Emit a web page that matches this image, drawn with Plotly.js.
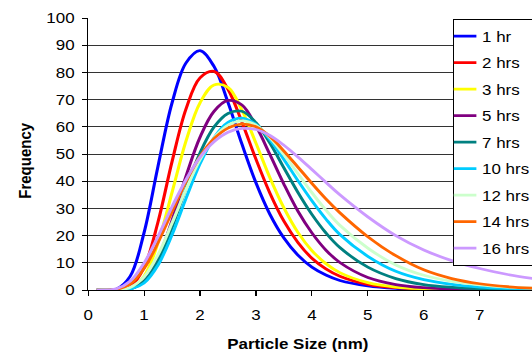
<!DOCTYPE html>
<html><head><meta charset="utf-8">
<script src="https://cdn.plot.ly/plotly-3.0.1.min.js"></script>
<style>
html,body{margin:0;padding:0;overflow:hidden;background:#fff;width:532px;height:353px;}
#chart{width:500px;height:353px;transform:scaleX(1.13);transform-origin:0 0;}
</style></head><body><div id="chart"></div>
<script>
const particleSize = [0.15, 0.5, 0.75, 1, 1.25, 1.5, 1.75, 2, 2.25, 2.5, 2.75, 3, 3.25, 3.5, 3.75, 4, 4.25, 4.5, 5, 5.5, 6, 6.5, 7, 7.5, 8];
const seriesNames = ['1 hr', '2 hrs', '3 hrs', '5 hrs', '7 hrs', '10 hrs', '12 hrs', '14 hrs', '16 hrs'];
const freq1hr  = [0, 0.3, 5.0, 21.1, 45.6, 68.8, 83.5, 88.0, 82.2, 69.0, 53.6, 39.4, 27.8, 19.1, 12.8, 8.4, 5.5, 3.5, 1.5, 0.6, 0.24, 0.1, 0.04, 0, 0];
const freq2hrs = [0, 0.03, 1.2, 8.3, 25.1, 47.2, 66.6, 78.0, 80.4, 73.8, 61.7, 48.1, 35.6, 25.3, 17.5, 11.7, 7.8, 5.1, 2.1, 0.85, 0.35, 0.14, 0.06, 0, 0];
const freq3hrs = [0, 0.01, 0.63, 5.1, 17.4, 35.9, 54.8, 68.8, 75.4, 74.5, 66.1, 54.0, 41.3, 30.2, 21.2, 14.5, 9.7, 6.4, 2.7, 1.08, 0.43, 0.17, 0.07, 0, 0];
const freq5hrs = [0, 0.01, 0.37, 3.2, 11.6, 25.6, 41.9, 56.2, 65.7, 69.7, 68.0, 60.3, 49.8, 38.9, 29.0, 21.0, 14.7, 10.1, 4.6, 2.0, 0.84, 0.35, 0.14, 0.06, 0.02];
const freq7hrs = [0, 0.01, 0.41, 3.2, 10.7, 23.0, 37.4, 50.4, 59.9, 64.9, 65.7, 61.5, 54.0, 44.9, 35.9, 27.8, 21.0, 15.6, 8.4, 4.2, 2.0, 0.97, 0.46, 0.22, 0.11];
const freq10hrs = [0, 0.01, 0.33, 2.6, 9.2, 20.3, 33.7, 46.4, 56.0, 61.6, 63.2, 60.9, 55.3, 48.0, 40.2, 32.8, 26.1, 20.4, 12.4, 6.9, 3.8, 2.1, 1.1, 0.6, 0.32];
const freq12hrs = [0, 0.04, 0.92, 4.8, 13.0, 24.6, 37.0, 47.9, 55.9, 60.6, 62.2, 60.6, 56.0, 49.7, 42.8, 35.8, 29.4, 23.8, 15.4, 9.2, 5.4, 3.2, 1.9, 1.08, 0.63];
const freq14hrs = [0, 0.2, 2.2, 7.9, 17.5, 28.8, 39.9, 49.1, 55.6, 59.5, 61.0, 60.0, 56.4, 51.1, 45.2, 39.2, 33.5, 28.4, 19.6, 12.6, 7.4, 4.2, 2.3, 1.2, 0.6];
const freq16hrs = [0, 0.41, 3.2, 9.9, 19.7, 30.6, 40.6, 48.8, 54.5, 58.0, 59.4, 59.0, 56.8, 53.2, 48.9, 44.3, 39.6, 35.0, 26.9, 20.0, 14.7, 10.8, 7.9, 5.7, 4.1];
const xTickVals = [0, 1, 2, 3, 4, 5, 6, 7];

const seriesValues = [freq1hr, freq2hrs, freq3hrs, freq5hrs, freq7hrs, freq10hrs, freq12hrs, freq14hrs, freq16hrs];
const seriesColors = ['#0000FF', '#FF0000', '#FFFF00', '#800080', '#008080', '#00CCFF', '#CCFFCC', '#FF6600', '#CC99FF'];

const traces = seriesNames.map((name, i) => ({
  type: 'scatter', mode: 'lines', name: name, legendgroup: 'g' + i,
  x: particleSize, y: seriesValues[i],
  line: {color: seriesColors[i], width: 2.75, shape: 'spline', smoothing: 1},
  hoverinfo: 'skip'
}));

const fontFam = '"Liberation Sans", Arial, sans-serif';
const layout = {
  width: 500, height: 353,
  margin: {l: 78, r: 26, t: 18, b: 63, autoexpand: false},
  paper_bgcolor: '#ffffff', plot_bgcolor: '#ffffff',
  font: {family: fontFam, size: 15, color: '#000'},
  showlegend: true,
  legend: {x: 0.8146, y: 0.997, xanchor: 'left', yanchor: 'top', bgcolor: '#ffffff',
           bordercolor: '#000', borderwidth: 1, tracegroupgap: 4, indentation: -15,
           font: {family: fontFam, size: 15, color: '#000'}},
  xaxis: {range: [0, 8], tickmode: 'array', tickvals: xTickVals, ticktext: xTickVals.map(String),
          ticks: 'outside', ticklen: 5, tickcolor: '#000', tickwidth: 1, ticklabelstandoff: 6,
          showline: true, linecolor: '#000', linewidth: 1, showgrid: false, zeroline: false,
          tickfont: {family: fontFam, size: 15, color: '#000'}},
  yaxis: {range: [0, 100], tick0: 0, dtick: 10, ticks: 'outside', ticklen: 4, tickcolor: '#000', tickwidth: 1,
          showline: true, linecolor: '#000', linewidth: 1, showgrid: true, gridcolor: '#333', gridwidth: 1,
          zeroline: false, ticklabelstandoff: 4,
          tickfont: {family: fontFam, size: 15, color: '#000'}},
  annotations: [
    {text: '<b>Particle Size (nm)</b>', xref: 'paper', yref: 'paper', x: 0.4692, y: -0.1967,
     xanchor: 'center', yanchor: 'middle', showarrow: false, font: {family: fontFam, size: 15, color: '#000'}},
    {text: '<b>Frequency</b>', xref: 'paper', yref: 'paper', x: -0.1394, y: 0.478, textangle: -90,
     xanchor: 'center', yanchor: 'middle', showarrow: false, font: {family: fontFam, size: 15, color: '#000'}}
  ]
};

Plotly.newPlot('chart', traces, layout, {staticPlot: true, displayModeBar: false});
</script>
</body></html>
